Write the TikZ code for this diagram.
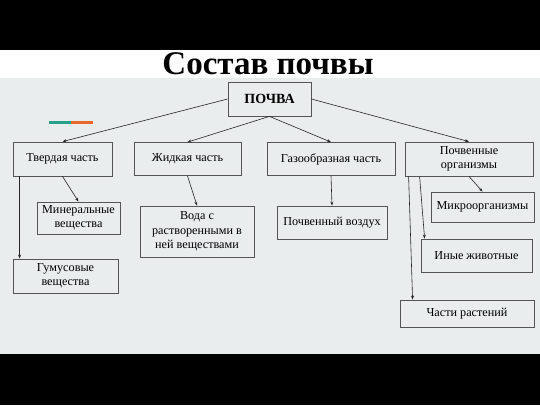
\documentclass[tikz,border=0pt]{standalone}
\usepackage{fontspec}
\setmainfont{Liberation Serif}
\usepackage{tikz}
\usetikzlibrary{arrows.meta,positioning}
\usepackage{xcolor}

\definecolor{bggray}{RGB}{233,237,237}
\definecolor{boxline}{RGB}{85,85,85}
\definecolor{tealbar}{RGB}{40,160,140}
\definecolor{orangebar}{RGB}{232,104,44}

\tikzset{
    part/.style={draw=boxline, line width=0.8pt, rectangle, align=center,
        inner sep=2pt, font=\fontsize{12.2}{14.5}\selectfont},
    link/.style={-{Stealth[length=4pt,width=3pt]}, draw=black!85, line width=0.6pt}
}

\begin{document}
\begin{tikzpicture}[x=1pt, y=-1pt]
    \useasboundingbox (0,0) rectangle (540,405);
    % Background bands
    \fill[black] (0,0) rectangle (540,50);
    \fill[white] (0,50) rectangle (540,78);
    \fill[bggray] (0,78) rectangle (540,354);
    \fill[black] (0,354) rectangle (540,405);

    % Title
    \node[font=\bfseries\fontsize{33}{36}\selectfont] (title) at (268, 64) {Состав почвы};

    % Accent bar
    \draw[tealbar, line width=3pt] (49,122) -- (71,122);
    \draw[orangebar, line width=3pt] (71,122) -- (93,122);

    % Root
    \node[part, font=\bfseries\fontsize{14}{16}\selectfont, minimum width=83pt, minimum height=34pt] (pochva) at (269.5,99) {ПОЧВА};

    % Parts
    \node[part, minimum width=99pt, minimum height=34pt] (tverd) at (62.5,159) {Твердая часть};
    \node[part, minimum width=107pt, minimum height=33pt] (zhid) at (187.5,159) {Жидкая часть};
    \node[part, minimum width=128pt, minimum height=33pt] (gaz) at (331,159) {Газообразная часть};
    \node[part, minimum width=128pt, minimum height=34pt] (org) at (469,159) {Почвенные\\организмы};

    % Components
    \node[part, minimum width=83pt, minimum height=32pt] (miner) at (78.5,218) {Минеральные\\вещества};
    \node[part, minimum width=105pt, minimum height=34pt] (gumus) at (65.5,276) {Гумусовые\\вещества};
    \node[part, minimum width=114pt, minimum height=51pt] (voda) at (197,231.5) {Вода с\\растворенными в\\ней веществами};
    \node[part, minimum width=110pt, minimum height=33pt] (vozduh) at (332,222.5) {Почвенный воздух};
    \node[part, minimum width=103pt, minimum height=30pt] (micro) at (482.5,207) {Микроорганизмы};
    \node[part, minimum width=111pt, minimum height=33pt] (zhivot) at (476.5,255.5) {Иные животные};
    \node[part, minimum width=134pt, minimum height=27pt] (rast) at (467,313.5) {Части растений};

    % Links from root
    \draw[link] (pochva.west) -- (tverd.north);
    \draw[link] (pochva.south) -- (zhid.north);
    \draw[link] (pochva.south) -- (gaz.north);
    \draw[link] (pochva.east) -- (org.north);

    % Links to components
    \draw[link] (tverd.south) -- (miner.north);
    \draw[link] ([xshift=7pt]tverd.south west) -- ([xshift=7pt]gumus.north west);
    \draw[link] (zhid.south) -- (voda.north);
    \draw[link] (gaz.south) -- (vozduh.north);
    \draw[link] (org.south) -- (micro.north);
    \draw[link] ([xshift=15pt]org.south west) -- ([xshift=4pt]zhivot.north west);
    \draw[link] ([xshift=4pt]org.south west) -- ([xshift=13pt]rast.north west);
\end{tikzpicture}
\end{document}
